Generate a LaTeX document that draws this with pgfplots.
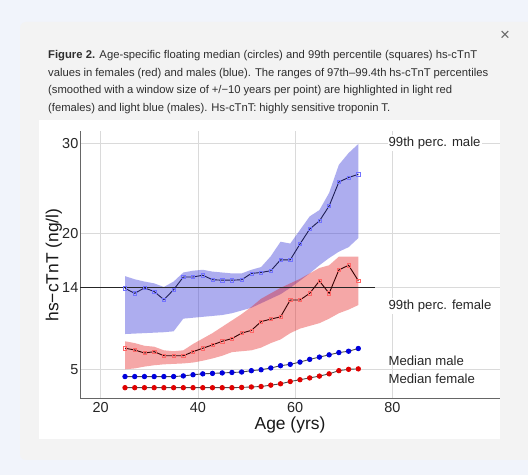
\documentclass[border=0pt]{standalone}
\usepackage{fontspec}
\setmainfont{Liberation Sans}
\usepackage{pgfplots}
\usepackage{pgfplotstable}
\pgfplotsset{compat=1.18}

\definecolor{pagebg}{HTML}{F1F4FB}
\definecolor{panelbg}{HTML}{F3F3F3}
\definecolor{capt}{HTML}{2E2E2E}
\definecolor{gridc}{HTML}{DADADA}
\definecolor{axisc}{HTML}{666666}
\definecolor{mblue}{HTML}{0000DD}
\definecolor{mred}{HTML}{E00000}
\definecolor{navy}{HTML}{1E1E55}
\definecolor{bandblue}{rgb}{0.2,0.2,0.85}
\definecolor{bandred}{rgb}{0.9,0.1,0.1}

% age, medians and 99th percentiles
\pgfplotstableread{
age fmed mmed f99 m99
25 2.97 4.20 7.33 13.95
27 2.97 4.20 7.14 13.40
29 2.97 4.20 6.80 14.00
31 2.97 4.20 6.95 13.60
33 2.97 4.20 6.50 12.70
35 2.97 4.20 6.50 13.80
37 2.97 4.27 6.50 15.20
39 2.97 4.40 6.95 15.20
41 2.97 4.50 7.33 15.40
43 2.97 4.55 7.70 14.90
45 2.97 4.60 8.10 14.85
47 2.97 4.65 8.40 14.85
49 3.00 4.70 9.00 14.90
51 3.05 4.85 9.30 15.60
53 3.10 4.95 10.27 15.70
55 3.25 5.15 10.55 15.90
57 3.40 5.40 10.80 17.10
59 3.65 5.55 12.66 17.10
61 3.85 5.80 12.66 18.85
63 4.05 6.10 13.40 20.50
65 4.25 6.35 14.76 21.40
67 4.50 6.60 13.40 23.05
69 4.85 6.85 15.98 25.70
71 5.00 7.00 16.50 26.20
73 5.05 7.30 14.80 26.55
}\tnt

% 97th-99.4th band, males: upper edge, then lower edge backwards
\pgfplotstableread{
age v
25 15.30
27 14.95
29 14.70
31 14.50
33 14.10
35 14.70
37 15.70
39 15.90
41 16.00
43 15.80
45 15.70
47 15.60
49 15.60
51 16.00
53 16.30
55 17.50
57 19.10
59 18.90
61 20.40
63 21.90
65 22.60
67 24.50
69 27.60
71 28.90
73 29.90
73 19.50
71 18.50
69 18.00
67 17.30
65 16.50
63 15.60
61 14.80
59 14.00
57 13.30
55 12.80
53 12.30
51 11.80
49 11.50
47 11.20
45 11.00
43 10.90
41 10.80
39 10.70
37 10.60
35 9.20
33 9.10
31 9.05
29 9.00
27 8.95
25 8.90
}\mband

% same for females
\pgfplotstableread{
age v
25 8.10
27 7.90
29 7.60
31 7.50
33 7.10
35 7.00
37 7.10
39 7.80
41 8.40
43 9.00
45 9.70
47 10.40
49 11.10
51 11.90
53 12.80
55 13.40
57 14.00
59 14.50
61 15.00
63 15.60
65 16.20
67 16.50
69 17.45
71 17.45
73 17.45
73 12.10
71 11.60
69 11.20
67 10.60
65 10.10
63 9.80
61 9.50
59 9.00
57 8.30
55 7.90
53 7.40
51 7.10
49 7.00
47 6.90
45 6.50
43 6.20
41 5.95
39 5.75
37 5.65
35 5.60
33 5.55
31 5.45
29 5.30
27 5.10
25 5.00
}\fband

\begin{document}
\begin{tikzpicture}[x=1bp,y=1bp]
\useasboundingbox (0,0) rectangle (528,475);
% page and panel
\fill[pagebg] (0,0) rectangle (528,475);
\fill[panelbg, rounded corners=6bp] (20,15) rectangle (540,453);
\fill[white] (39,36) rectangle (500,355);

% caption
\begin{scope}[every node/.style={anchor=base west, inner sep=0pt, text=capt,
    font=\fontsize{11.3}{13}\selectfont}]
\node at (48,416) {\hbox to 429bp{\textbf{Figure 2.} Age-specific floating median (circles) and 99th percentile (squares) hs-cTnT}};
\node at (48,398.5) {\hbox to 440bp{values in females (red) and males (blue). The ranges of 97th–99.4th hs-cTnT percentiles}};
\node at (48,381) {\hbox to 404bp{(smoothed with a window size of +/−10 years per point) are highlighted in light red}};
\node at (48,363.5) {\hbox to 342bp{(females) and light blue (males). Hs-cTnT: highly sensitive troponin T.}};
\end{scope}
\node[text=axisc, font=\fontsize{17}{17}\selectfont] at (505,439) {×};

\begin{axis}[
  at={(80bp,76bp)}, anchor=south west,
  scale only axis, width=420bp, height=268bp,
  xmin=15.74, xmax=102.16, ymin=1.72, ymax=31.34,
  axis x line*=bottom, axis y line*=left,
  axis line style={draw=axisc, line width=1bp, -},
  xtick={20,40,60,80}, ytick={5,14,20,30},
  major tick length=0pt,
  grid=major, major grid style={draw=gridc, line width=0.8bp},
  tick label style={font=\fontsize{14.5}{16}\selectfont, text=black!85},
  yticklabel style={inner xsep=1.5bp},
  /pgf/number format/assume math mode=true,
  xlabel={Age (yrs)}, ylabel={hs−cTnT (ng/l)},
  label style={font=\fontsize{17.5}{20}\selectfont, text=black!90},
  xlabel style={at={(axis description cs:0.5,-0.097)}, anchor=center},
  ylabel style={at={(axis description cs:-0.062,0.5)}, anchor=center},
  clip=false,
]
% bands
\addplot[fill=bandblue, fill opacity=0.4, draw=none] table[x=age, y=v] {\mband} -- cycle;
\addplot[fill=bandred, fill opacity=0.38, draw=none] table[x=age, y=v] {\fband} -- cycle;

% reference line at 14
\addplot[black!85, line width=1.1bp] coordinates {(15.74,14) (76.5,14)};

% 99th percentiles
\addplot[navy, line width=0.9bp, mark=square, mark size=1.6bp,
  mark options={draw=blue!55, line width=0.5bp}] table[x=age, y=m99] {\tnt};
\addplot[black!80!red, line width=0.9bp, mark=square, mark size=1.6bp,
  mark options={draw=red!60, line width=0.5bp}] table[x=age, y=f99] {\tnt};

% medians
\addplot[black!70, line width=0.9bp, mark=*, mark size=2.2bp,
  mark options={draw=mblue, fill=mblue}] table[x=age, y=mmed] {\tnt};
\addplot[black!70, line width=0.9bp, mark=*, mark size=2.2bp,
  mark options={draw=mred, fill=mred}] table[x=age, y=fmed] {\tnt};

% series labels
\begin{scope}[every node/.style={anchor=west, fill=white, inner xsep=1bp, inner ysep=1.5bp,
    text=black!85, font=\fontsize{13.2}{14}\selectfont}]
\node at (axis cs:79,30) {99th perc. male};
\node at (axis cs:79,12) {99th perc. female};
\end{scope}
\begin{scope}[every node/.style={anchor=west, inner xsep=1bp, inner ysep=0bp,
    text=black!85, font=\fontsize{13.2}{14}\selectfont}]
\node at (axis cs:79,5.92) {Median male};
\node at (axis cs:79,3.9) {Median female};
\end{scope}
\end{axis}
\end{tikzpicture}
\end{document}
